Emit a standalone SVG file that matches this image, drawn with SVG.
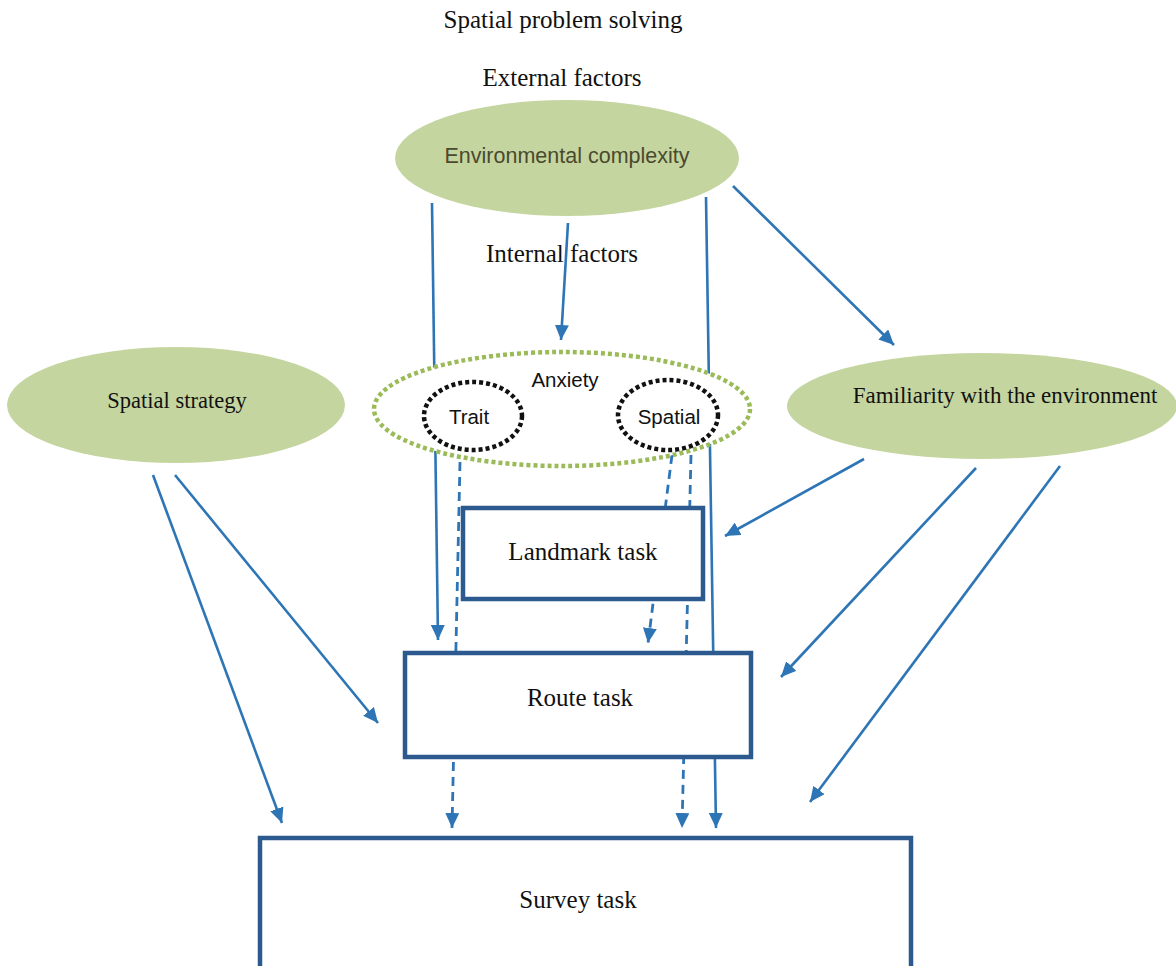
<svg xmlns="http://www.w3.org/2000/svg" width="1176" height="966" viewBox="0 0 1176 966">
  <style>
    .serif { font-family: "Liberation Serif", "Times New Roman", serif; fill: #111; }
    .sans { font-family: "Liberation Sans", Arial, sans-serif; fill: #111; }
    .factor { fill: #c5d5a0; }
    .task { fill: #ffffff; stroke: #2c5a8f; stroke-width: 4.5; }
    .link { stroke: #2e75b6; stroke-width: 2.6; fill: none; marker-end: url(#arrow); }
    .dash { stroke-dasharray: 9 6; stroke-width: 2.8; }
  </style>
  <defs>
    <marker id="arrow" markerUnits="userSpaceOnUse" markerWidth="15" markerHeight="14" refX="15" refY="7" orient="auto">
      <path d="M0,0 L15,7 L0,14 z" fill="#2e75b6"/>
    </marker>
  </defs>

  <rect width="1176" height="966" fill="#ffffff"/>

  <!-- headings -->
  <text class="serif" x="563" y="28" font-size="25" text-anchor="middle">Spatial problem solving</text>
  <text class="serif" x="562" y="86" font-size="25" text-anchor="middle">External factors</text>
  <text class="serif" x="562" y="262" font-size="25" text-anchor="middle">Internal factors</text>

  <!-- connectors -->
  <g id="connectors">
    <line class="link" x1="432" y1="203" x2="438" y2="640"/>
    <line class="link" x1="568" y1="223" x2="561" y2="340"/>
    <line class="link" x1="706" y1="197" x2="716" y2="828"/>
    <line class="link" x1="733" y1="186" x2="894" y2="345"/>
    <line class="link" x1="864" y1="459" x2="725" y2="536"/>
    <line class="link" x1="976" y1="468" x2="781" y2="677"/>
    <line class="link" x1="1060" y1="466" x2="810" y2="802"/>
    <line class="link" x1="153" y1="475" x2="282" y2="823"/>
    <line class="link" x1="175" y1="475" x2="378" y2="723"/>
    <line class="link dash" x1="460" y1="462" x2="452" y2="828"/>
    <line class="link dash" x1="672" y1="455" x2="648" y2="643"/>
    <line class="link dash" x1="691" y1="455" x2="682" y2="828"/>
  </g>

  <!-- external factor -->
  <g id="environmental-complexity">
    <ellipse class="factor" cx="567" cy="158" rx="172" ry="58"/>
    <text class="sans" x="567" y="163" font-size="21.5" text-anchor="middle" style="fill:#4a4a2e">Environmental complexity</text>
  </g>

  <g id="spatial-strategy">
    <ellipse class="factor" cx="176" cy="405" rx="169" ry="58"/>
    <text class="serif" x="177" y="408" font-size="22.5" text-anchor="middle">Spatial strategy</text>
  </g>

  <g id="familiarity">
    <ellipse class="factor" cx="982" cy="406" rx="195" ry="53"/>
    <text class="serif" x="1005" y="403" font-size="23" text-anchor="middle">Familiarity with the environment</text>
  </g>

  <!-- internal factor: anxiety with its two kinds -->
  <g id="anxiety">
    <ellipse cx="562" cy="409" rx="188" ry="57" fill="#ffffff" stroke="#9bbb59" stroke-width="4.5" stroke-dasharray="4 3"/>
    <text class="sans" x="565" y="387" font-size="20.5" text-anchor="middle">Anxiety</text>
  </g>
  <g id="trait">
    <ellipse cx="473" cy="416" rx="49" ry="34" fill="none" stroke="#111" stroke-width="4.5" stroke-dasharray="4 3"/>
    <text class="sans" x="469" y="424" font-size="20.5" text-anchor="middle">Trait</text>
  </g>
  <g id="spatial">
    <ellipse cx="668" cy="415" rx="50" ry="35" fill="none" stroke="#111" stroke-width="4.5" stroke-dasharray="4 3"/>
    <text class="sans" x="669" y="424" font-size="20.5" text-anchor="middle">Spatial</text>
  </g>

  <!-- tasks -->
  <g id="landmark-task">
    <rect class="task" x="463" y="508" width="240" height="91"/>
    <text class="serif" x="583" y="560" font-size="25" text-anchor="middle">Landmark task</text>
  </g>
  <g id="route-task">
    <rect class="task" x="405" y="653" width="346" height="104"/>
    <text class="serif" x="580" y="706" font-size="25" text-anchor="middle">Route task</text>
  </g>
  <g id="survey-task">
    <rect class="task" x="260" y="838" width="651" height="140"/>
    <text class="serif" x="578" y="908" font-size="25" text-anchor="middle">Survey task</text>
  </g>
</svg>
